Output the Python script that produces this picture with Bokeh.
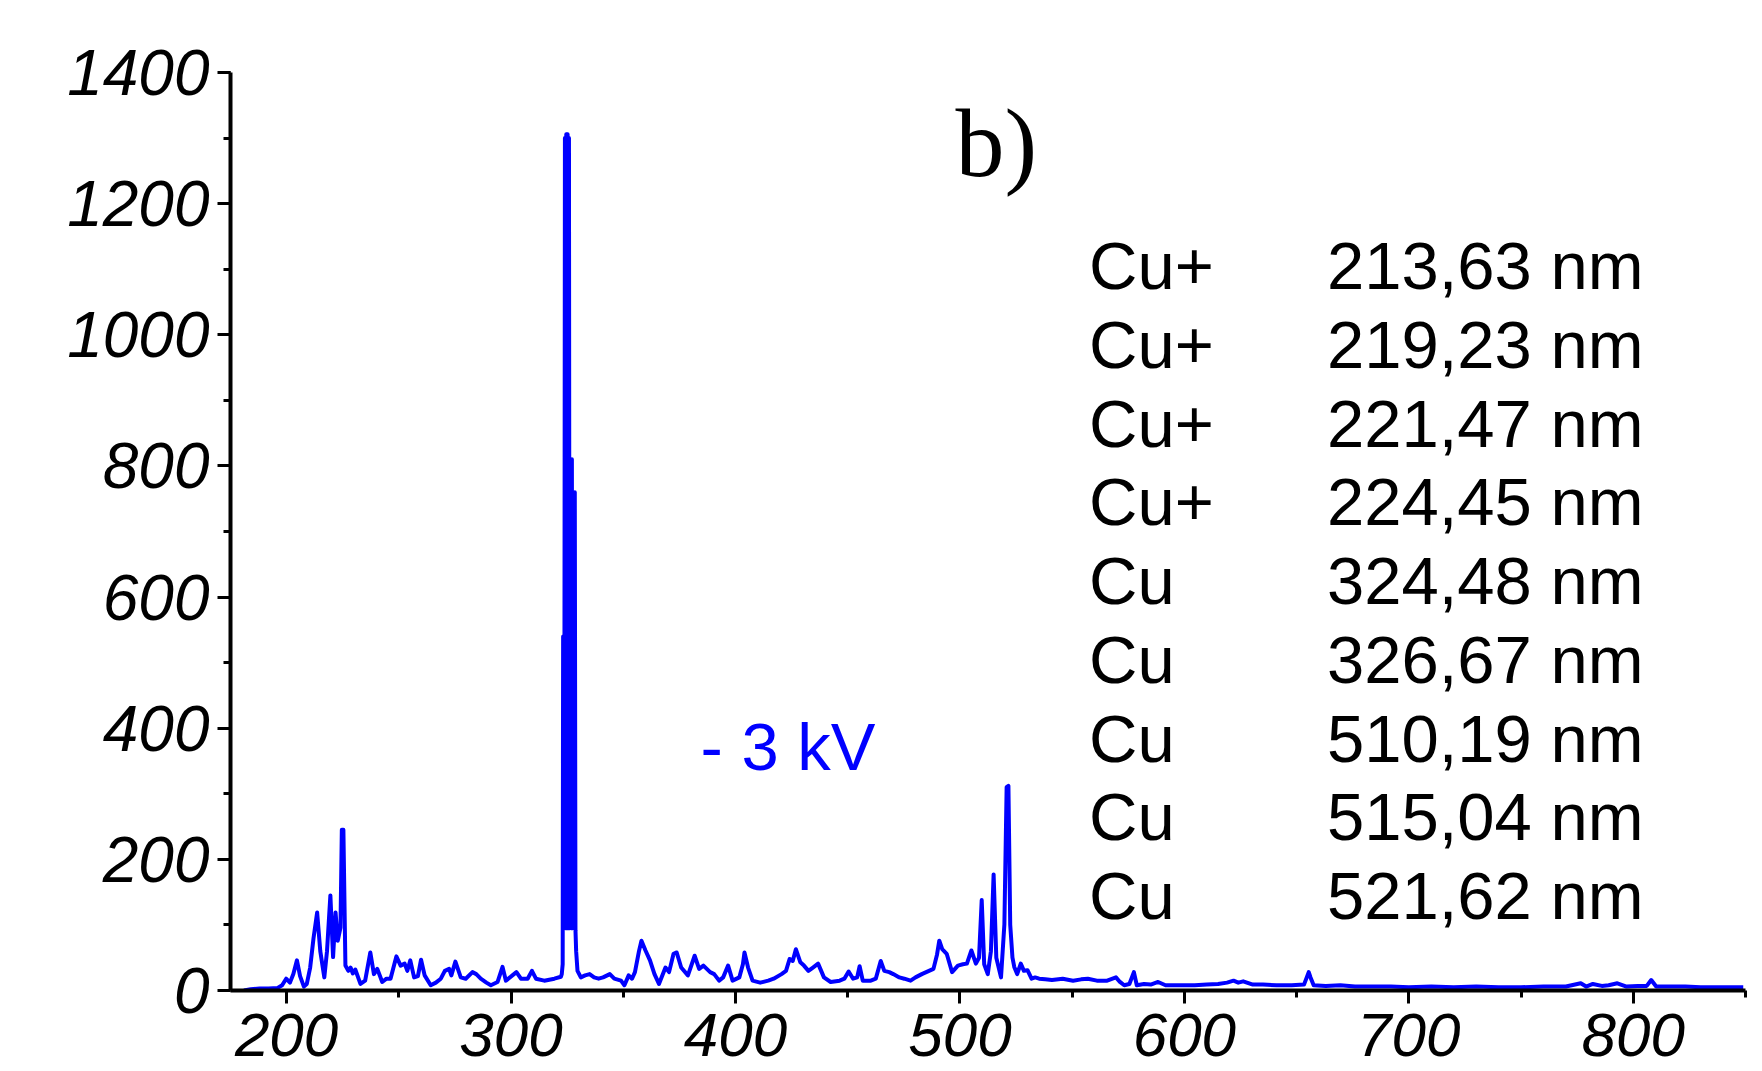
from bokeh.plotting import figure
from bokeh.models import Range1d, SingleIntervalTicker, ColumnDataSource, BoxAnnotation
from bokeh.core.properties import value
from bokeh.embed import file_html
from bokeh.resources import INLINE

# ---------------- data ----------------
wavelength_nm = [
    181, 184, 188, 192, 196, 198, 199.8, 201.5, 203, 204.6,
    206, 207.7, 209, 210.5, 212, 213.6, 215, 216.8, 218, 219.5,
    220.7, 221.8, 222.8, 224, 224.6, 225.3, 226.2, 227.5, 228.5, 229.5,
    230.6, 232.9, 235, 237.3, 238.9, 240.4, 242.6, 244.5, 246.3, 248.9,
    250.8, 252.6, 253.8, 255.1, 256.8, 258.5, 259.9, 261.5, 264.2, 266.5,
    268.7, 270.5, 272.4, 273.4, 275.2, 277.6, 279.8, 282.8, 284.5, 286.5,
    289, 291, 294, 296.2, 297.7, 300.6, 302.4, 304.4, 307.4, 309.3,
    311.1, 314.8, 319.3, 322.2, 322.6, 323.0, 323.2, 323.5, 323.8, 324.0,
    324.3, 324.6, 324.9, 325.2, 325.5, 325.8, 326.1, 326.5, 326.8, 327.1,
    327.4, 327.8, 328.1, 328.4, 328.7, 329.0, 329.6, 331.1, 333, 335,
    337, 339, 341, 344, 346, 349, 350.5, 352.4, 353.9, 355.2,
    357.0, 358.1, 359.9, 361.9, 363.9, 365.9, 368.8, 370.4, 372.4, 373.8,
    375.8, 378.8, 381.8, 383.8, 385.7, 388.7, 390.5, 392.7, 394.5, 396.7,
    398.7, 401.7, 403.3, 404.0, 405.6, 407.6, 411, 414.6, 417, 420.5,
    422.5, 424.1, 425.5, 426.9, 428.9, 430.5, 432.5, 434.5, 436.8, 439.4,
    442.4, 446.4, 448.5, 450.4, 452.4, 454.2, 455.3, 456.7, 460.3, 462.5,
    464.7, 466.3, 468.5, 470.3, 473, 475.2, 478, 480.2, 483, 486.2,
    488.2, 489.8, 490.8, 492.1, 494.1, 496.5, 499.1, 501.3, 503.1, 505.1,
    507.1, 508.5, 509.7, 510.8, 512.4, 513.8, 515.0, 516.2, 518.3, 519.8,
    520.8, 521.6, 522.4, 523.4, 524.2, 525.5, 527.1, 528.5, 530.1, 531.9,
    533.5, 535.3, 538, 541, 545.8, 550.4, 554, 557, 561, 565.6,
    569.5, 571, 573.2, 575.5, 577.5, 578.8, 582, 585, 588.3, 591.6,
    597, 604.6, 610, 615, 619, 621.9, 624, 626.2, 630.5, 635,
    641, 647.8, 653.3, 655.4, 656.2, 657.6, 663, 669.5, 676, 684,
    692, 700, 710, 720, 730, 740, 750, 760, 770, 776.6,
    779, 782, 786, 789, 792.9, 797, 802, 806, 808, 810.2,
    816, 823.2, 830, 838, 844, 849,
]
intensity = [
    0, 2, 3, 3, 4, 8, 18, 12, 25, 46,
    22, 6, 10, 35, 80, 119, 60, 20, 60, 145,
    51, 119, 76, 96, 245, 245, 38, 30, 35, 26,
    32, 10, 15, 58, 25, 33, 13, 18, 18, 52,
    38, 41, 30, 46, 20, 22, 47, 23, 8, 12,
    18, 30, 33, 23, 44, 20, 18, 28, 25, 18,
    12, 8, 13, 36, 15, 23, 28, 18, 18, 30,
    18, 15, 18, 21, 25, 40, 540, 120, 540, 1300,
    95, 1306, 95, 1306, 95, 1300, 95, 810, 95, 810,
    95, 760, 95, 760, 92, 60, 30, 20, 23, 25,
    20, 18, 20, 25, 18, 15, 8, 23, 18, 28,
    60, 76, 61, 46, 25, 10, 35, 28, 56, 58,
    35, 23, 53, 33, 38, 28, 25, 15, 20, 38,
    15, 20, 40, 58, 35, 15, 12, 15, 18, 25,
    30, 48, 45, 63, 43, 38, 30, 35, 41, 20,
    13, 15, 18, 29, 18, 20, 37, 15, 15, 18,
    45, 30, 28, 25, 20, 18, 15, 20, 25, 30,
    33, 55, 76, 63, 56, 28, 38, 40, 41, 61,
    41, 50, 138, 40, 25, 60, 177, 50, 20, 101,
    310, 312, 100, 50, 36, 25, 41, 30, 31, 18,
    20, 18, 17, 16, 18, 15, 17, 18, 15, 15,
    20, 14, 8, 10, 28, 8, 10, 9, 13, 8,
    8, 8, 9, 10, 12, 15, 12, 14, 9, 9,
    8, 8, 9, 28, 20, 8, 7, 8, 6, 6,
    6, 5, 6, 5, 6, 5, 5, 6, 6, 11,
    6, 10, 7, 8, 11, 6, 7, 7, 16, 6,
    6, 6, 5, 5, 5, 5,
]

species = ["Cu+", "Cu+", "Cu+", "Cu+", "Cu", "Cu", "Cu", "Cu", "Cu"]
line_labels = ["213,63 nm", "219,23 nm", "221,47 nm", "224,45 nm",
               "324,48 nm", "326,67 nm", "510,19 nm", "515,04 nm", "521,62 nm"]
panel_label = "b)"
voltage_label = "- 3 kV"

x_ticks_interval = 100
y_ticks_interval = 200

# ---------------- figure ----------------
p = figure(
    frame_width=1515, frame_height=918,
    x_range=Range1d(175, 850), y_range=Range1d(0, 1400),
    output_backend="svg", toolbar_location=None,
    min_border_left=230, min_border_right=17, min_border_top=72, min_border_bottom=81,
)
p.outline_line_color = None
p.grid.visible = False
p.background_fill_color = "white"
p.border_fill_color = "white"


def canvas_box(l, r, t, b, color):
    return BoxAnnotation(left=l, right=r, top=t, bottom=b,
                         left_units="canvas", right_units="canvas",
                         top_units="canvas", bottom_units="canvas",
                         fill_color=color, fill_alpha=1, line_color=None,
                         level="annotation")


# light grey page surround (scanned-figure card look)
p.add_layout(canvas_box(0, 56, 0, 1071, "#f4f4f4"))
p.add_layout(canvas_box(0, 1762, 0, 34, "#f4f4f4"))
p.add_layout(canvas_box(50, 56, 30, 1071, "#ececec"))
p.add_layout(canvas_box(50, 1762, 28, 34, "#ececec"))
p.add_layout(canvas_box(1753, 1762, 30, 1071, "#bdbdbd"))

p.line(wavelength_nm, intensity, line_color="#0000ff", line_width=4, line_join="round")

p.xaxis.ticker = SingleIntervalTicker(interval=x_ticks_interval, num_minor_ticks=2)
p.yaxis.ticker = SingleIntervalTicker(interval=y_ticks_interval, num_minor_ticks=2)

for ax in (p.xaxis, p.yaxis):
    ax.axis_line_width = 4
    ax.axis_line_color = "black"
    ax.major_tick_line_width = 3
    ax.minor_tick_line_width = 3
    ax.major_tick_line_color = "black"
    ax.minor_tick_line_color = "black"
    ax.major_tick_in = 0
    ax.major_tick_out = 13
    ax.minor_tick_in = 0
    ax.minor_tick_out = 7
    ax.major_label_text_font = "Liberation Sans"
    ax.major_label_text_font_style = "italic"
    ax.major_label_text_color = "black"
p.yaxis.major_label_text_font_size = "64px"
p.xaxis.major_label_text_font_size = "62px"
p.xaxis.major_label_standoff = 10
p.yaxis.major_label_standoff = 8

# legend-like text table
row_y = [1105 - 120 * i for i in range(len(species))]
src = ColumnDataSource(dict(sp=species, nm=line_labels, y=row_y,
                            x1=[557.5] * len(species), x2=[663.5] * len(species)))
p.text(x="x1", y="y", text="sp", source=src, text_font=value("Liberation Sans"),
       text_font_size="67px", text_color="black", text_baseline="alphabetic", text_align="left")
p.text(x="x2", y="y", text="nm", source=src, text_font=value("Liberation Sans"),
       text_font_size="67px", text_color="black", text_baseline="alphabetic", text_align="left")

p.text(x=[384.4], y=[372], text=[voltage_label], text_font=value("Liberation Sans"),
       text_font_size="67px", text_color="#0000ff", text_baseline="alphabetic", text_align="left")
p.text(x=[498], y=[1293], text=[panel_label], text_font=value("Liberation Serif"),
       text_font_size="98px", text_color="black", text_baseline="alphabetic", text_align="left")

open("out.html", "w").write(file_html(p, INLINE))
